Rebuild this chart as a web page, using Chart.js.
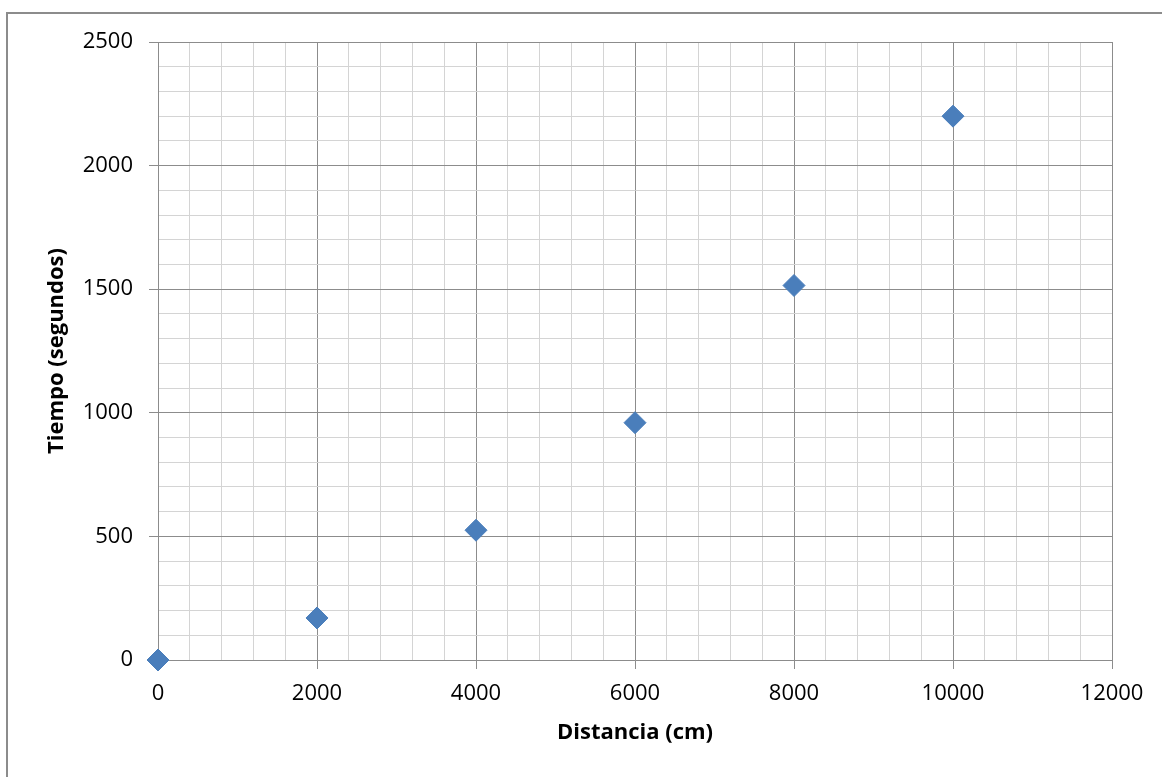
<!DOCTYPE html>
<html>
<head>
<meta charset="utf-8">
<script src="https://cdn.jsdelivr.net/npm/chart.js@4.4.1/dist/chart.umd.min.js"></script>
<style>
  body { margin: 0; background: #fff; }
  #wrap { position: relative; width: 1162px; height: 777px; }
  #marco {
    position: absolute; left: 6px; top: 12px; right: 0; bottom: 0;
    border-left: 2px solid #8c8c8c; border-top: 2px solid #8c8c8c;
    pointer-events: none;
  }
  canvas { position: absolute; left: 0; top: 0; }
</style>
</head>
<body>
<div id="wrap">
  <canvas id="grafico" width="1162" height="777"></canvas>
  <div id="marco"></div>
</div>
<script>
// Datos
const distancia = [0, 2000, 4000, 6000, 8000, 10000]; // cm
const tiempo = [0, 170, 525, 960, 1515, 2200];        // segundos

const ejeX = { min: 0, max: 12000, paso: 400, pasoMayor: 2000 };
const ejeY = { min: 0, max: 2500, paso: 100, pasoMayor: 500 };

const colorMayor = '#8c8c8c';
const colorMenor = '#d4d4d4';
const fuente = 'Open Sans';

const puntos = distancia.map((d, i) => ({ x: d, y: tiempo[i] }));

const esMayor = (v, paso) => Math.abs(v % paso) < 1e-6;

const ctx = document.getElementById('grafico').getContext('2d');

new Chart(ctx, {
  type: 'scatter',
  data: {
    datasets: [{
      label: 'Tiempo',
      data: puntos,
      pointStyle: 'rectRot',
      pointRadius: 11,
      pointHoverRadius: 11,
      backgroundColor: '#4a7ebb',
      borderColor: '#4a7ebb',
      borderWidth: 1,
      clip: false,
    }],
  },
  options: {
    responsive: false,
    animation: false,
    layout: { padding: { top: 42, right: 50, left: 0, bottom: 0 } },
    plugins: {
      legend: { display: false },
      tooltip: { enabled: false },
    },
    scales: {
      x: {
        type: 'linear',
        min: ejeX.min,
        max: ejeX.max,
        afterFit: (scale) => { scale.height = 117; },
        border: { color: colorMayor, width: 1 },
        grid: {
          color: (c) => esMayor(c.tick.value, ejeX.pasoMayor) ? colorMayor : colorMenor,
          tickColor: (c) => esMayor(c.tick.value, ejeX.pasoMayor) ? colorMayor : 'rgba(0,0,0,0)',
          tickLength: 9,
        },
        ticks: {
          stepSize: ejeX.paso,
          autoSkip: false,
          maxRotation: 0,
          padding: 12,
          color: '#000',
          font: { family: fuente, size: 22 },
          callback: (v) => esMayor(v, ejeX.pasoMayor) ? String(v) : '',
        },
        title: {
          display: true,
          text: 'Distancia (cm)',
          color: '#000',
          font: { family: fuente, size: 22, weight: 'bold' },
          padding: { top: 0, bottom: 31 },
        },
      },
      y: {
        type: 'linear',
        min: ejeY.min,
        max: ejeY.max,
        afterFit: (scale) => { scale.width = 158; },
        border: { color: colorMayor, width: 1 },
        grid: {
          color: (c) => esMayor(c.tick.value, ejeY.pasoMayor) ? colorMayor : colorMenor,
          tickColor: (c) => esMayor(c.tick.value, ejeY.pasoMayor) ? colorMayor : 'rgba(0,0,0,0)',
          tickLength: 9,
        },
        ticks: {
          stepSize: ejeY.paso,
          autoSkip: false,
          padding: 16,
          color: '#000',
          font: { family: fuente, size: 22 },
          callback: (v) => esMayor(v, ejeY.pasoMayor) ? String(v) : '',
        },
        title: {
          display: true,
          text: 'Tiempo (segundos)',
          color: '#000',
          font: { family: fuente, size: 22, weight: 'bold' },
          padding: { top: 44, bottom: 0 },
        },
      },
    },
  },
});
</script>
</body>
</html>
